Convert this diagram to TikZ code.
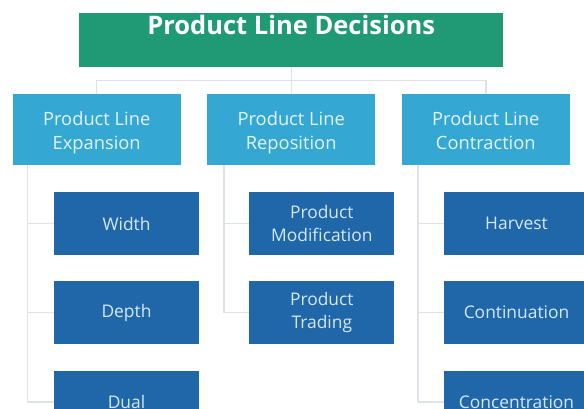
\documentclass[tikz,border=0pt]{standalone}
\usepackage{fontspec}
\setmainfont{Open Sans}
\definecolor{topgreen}{HTML}{1F9A74}
\definecolor{midblue}{HTML}{34A8D2}
\definecolor{darkblue}{HTML}{1F67A8}
\definecolor{linegray}{HTML}{DDE3E8}
\definecolor{midtext}{HTML}{E4F3FA}
\definecolor{darktext}{HTML}{D6E8F6}
\begin{document}
\begin{tikzpicture}[x=1pt,y=-1pt,
  topbox/.style={fill=topgreen, text=white, font=\fontsize{25.5}{28}\selectfont\bfseries,
    minimum width=424pt, inner xsep=0pt, inner ysep=0pt, text height=21.8pt, text depth=32.2pt, anchor=north},
  midbox/.style={fill=midblue, text=midtext, font=\fontsize{18.3}{24}\selectfont,
    minimum width=168pt, minimum height=71pt, inner sep=0pt, align=center,
    text height=55pt, text depth=16pt},
  leafbox/.style={fill=darkblue, text=darktext, font=\fontsize{17.4}{23}\selectfont,
    minimum width=145pt, minimum height=62.5pt, inner sep=0pt, align=center},
  conn/.style={draw=linegray, line width=1.4pt}]
\useasboundingbox (0,0) rectangle (584,409);
\fill[white] (0,0) rectangle (584,409);
% top
\node[topbox] (top) at (291.2,12.7) {Product Line Decisions};
% level 2
\node[midbox] (e) at (96.7,129.7) {Product Line\\Expansion};
\node[midbox] (r) at (291.2,129.7) {Product Line\\Reposition};
\node[midbox] (c) at (485.8,129.7) {Product Line\\Contraction};
% level 3
\node[leafbox] (w) at (126.5,223.5) {Width};
\node[leafbox] (d) at (126.5,312.5) {Depth};
\node[leafbox] (du) at (126.5,401.8) {Dual};
\node[leafbox] (pm) at (321.8,223.5) {Product\\Modification};
\node[leafbox] (pt) at (321.8,312.5) {Product\\Trading};
\node[leafbox] (h) at (516.5,223.5) {Harvest};
\node[leafbox] (co) at (516.5,312.5) {Continuation};
\node[leafbox] (cc) at (516.5,401.8) {Concentration};
% connectors
\draw[conn] (top.south) -- ++(0,13.3) coordinate (hub);
\draw[conn] (hub) -| (e.north);
\draw[conn] (hub) -| (c.north);
\draw[conn] (hub) -- (r.north);
\draw[conn] ([xshift=15pt]e.south west) |- (w.west);
\draw[conn] ([xshift=15pt]e.south west) |- (d.west);
\draw[conn] ([xshift=15pt]e.south west) |- (du.west);
\draw[conn] ([xshift=17pt]r.south west) |- (pm.west);
\draw[conn] ([xshift=17pt]r.south west) |- (pt.west);
\draw[conn] ([xshift=16.5pt]c.south west) |- (h.west);
\draw[conn] ([xshift=16.5pt]c.south west) |- (co.west);
\draw[conn] ([xshift=16.5pt]c.south west) |- (cc.west);
\end{tikzpicture}
\end{document}
